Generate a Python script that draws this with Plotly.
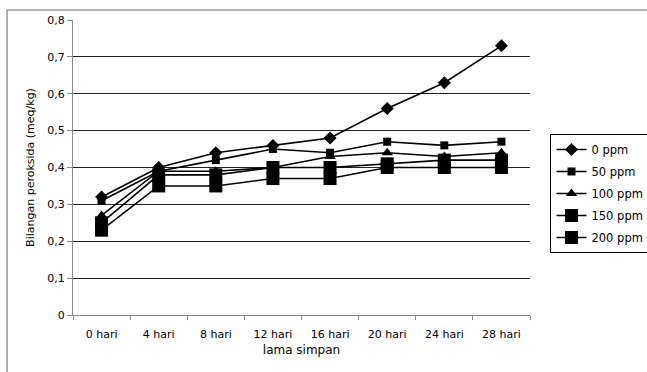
import plotly.graph_objects as go

# Storage time (days) and peroxide values per concentration
hari = ["0 hari", "4 hari", "8 hari", "12 hari", "16 hari", "20 hari", "24 hari", "28 hari"]
ppm_0 = [0.32, 0.40, 0.44, 0.46, 0.48, 0.56, 0.63, 0.73]
ppm_50 = [0.31, 0.39, 0.42, 0.45, 0.44, 0.47, 0.46, 0.47]
ppm_100 = [0.27, 0.39, 0.39, 0.40, 0.43, 0.44, 0.43, 0.44]
ppm_150 = [0.25, 0.38, 0.38, 0.40, 0.40, 0.41, 0.42, 0.42]
ppm_200 = [0.23, 0.35, 0.35, 0.37, 0.37, 0.40, 0.40, 0.40]

y_ticks = [0, 0.1, 0.2, 0.3, 0.4, 0.5, 0.6, 0.7, 0.8]
y_ticktext = ["0", "0,1", "0,2", "0,3", "0,4", "0,5", "0,6", "0,7", "0,8"]

series = [
    ("0 ppm", ppm_0, "diamond", 10),
    ("50 ppm", ppm_50, "square", 8),
    ("100 ppm", ppm_100, "triangle-up", 10),
    ("150 ppm", ppm_150, "square", 13),
    ("200 ppm", ppm_200, "square", 13),
]

FONT = "DejaVu Sans"

fig = go.Figure()
for name, vals, sym, sz in series:
    fig.add_trace(go.Scatter(
        x=hari, y=vals, name=name, legendgroup=name, mode="lines+markers",
        line=dict(color="black", width=1.6),
        marker=dict(symbol=sym, size=sz, color="black"),
    ))

L, R, T, B = 73, 116.5, 20, 57
W, H = 647, 372
pw, ph = W - L - R, H - T - B

fig.update_layout(
    width=W, height=H,
    margin=dict(l=L, r=R, t=T, b=B, autoexpand=False),
    paper_bgcolor="white", plot_bgcolor="white",
    font=dict(family=FONT, size=11, color="black"),
    showlegend=True,
    legend=dict(
        x=(551 - L) / pw, y=(H - B - 134) / ph,
        xanchor="left", yanchor="top",
        bordercolor="black", borderwidth=1,
        font=dict(family=FONT, size=11.5),
        tracegroupgap=3, itemsizing="trace",
        bgcolor="white",
    ),
    xaxis=dict(
        type="category",
        showgrid=False,
        showline=True, linecolor="#888888", linewidth=1,
        ticks="outside", tickson="boundaries", ticklen=4, tickcolor="#888888",
        tickfont=dict(family=FONT, size=11),
        ticklabelstandoff=9,
        title=dict(text="lama simpan", font=dict(family=FONT, size=12), standoff=5),
        range=[-0.5, 7.5],
    ),
    yaxis=dict(
        range=[0, 0.8], tickvals=y_ticks, ticktext=y_ticktext,
        showgrid=True, gridcolor="#222222", gridwidth=1,
        showline=True, linecolor="#888888", linewidth=1,
        ticks="outside", ticklen=5, tickcolor="#888888",
        tickfont=dict(family=FONT, size=11),
        title=dict(text="Bilangan peroksida (meq/kg)", font=dict(family=FONT, size=11), standoff=10),
        zeroline=False,
    ),
)

# Chart-area frame; its right and bottom edges lie beyond the figure
fig.add_shape(
    type="rect", xref="paper", yref="paper",
    x0=(7 - L) / pw, x1=(W + 200 - L) / pw,
    y0=(H - B - (H + 200)) / ph, y1=(H - B - 10) / ph,
    line=dict(color="#999999", width=1.5), layer="below",
)

fig.write_html("out.html", config={"displayModeBar": False})
